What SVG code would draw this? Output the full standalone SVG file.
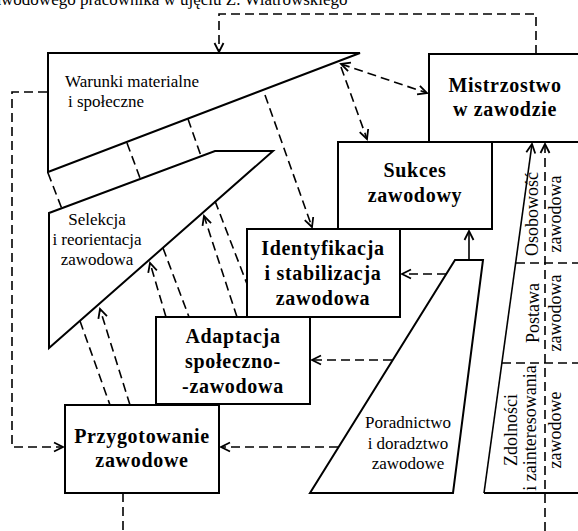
<svg xmlns="http://www.w3.org/2000/svg" width="578" height="531" viewBox="0 0 578 531">
<defs>
<marker id="ah" markerUnits="userSpaceOnUse" markerWidth="12" markerHeight="12" viewBox="0 0 12 12" refX="10" refY="6" orient="auto-start-reverse">
<path d="M1,1.5 L10,6 L1,10.5" fill="none" stroke="#000" stroke-width="1.8"/>
</marker>
<style>
.shape{fill:none;stroke:#000;stroke-width:2}
.dash{fill:none;stroke:#000;stroke-width:1.6;stroke-dasharray:9 5}
.solid{fill:none;stroke:#000;stroke-width:1.6}
.arr{marker-end:url(#ah)}
text{font-family:'Liberation Serif','Times New Roman',serif;fill:#000}
.b{font-weight:bold;font-size:20px;letter-spacing:0.7px;text-anchor:middle}
.r{font-size:17px}
.v{font-size:18px;text-anchor:middle}
</style>
</defs>
<rect width="578" height="531" fill="#fff"/>
<text class="r" x="-14" y="5" font-size="18">zawodowego pracownika w ujęciu Z. Wiatrowskiego</text>

<g id="warunki">
<polygon class="shape" points="48,53 360,53 48,172"/>
<text class="r" x="65" y="87">Warunki materialne</text>
<text class="r" x="68" y="107">i społeczne</text>
</g>
<g id="selekcja">
<polygon class="shape" points="49,213 215,151 273,151 49,348"/>
<text class="r" x="97" y="225" text-anchor="middle">Selekcja</text>
<text class="r" x="97" y="245" text-anchor="middle">i reorientacja</text>
<text class="r" x="97" y="265" text-anchor="middle">zawodowa</text>
</g>
<g id="mistrzostwo">
<rect class="shape" x="429" y="54" width="160" height="88"/>
<text class="b" x="505" y="92">Mistrzostwo</text>
<text class="b" x="505" y="116">w zawodzie</text>
</g>
<g id="sukces">
<rect class="shape" x="338" y="142" width="154" height="87"/>
<text class="b" x="415" y="177">Sukces</text>
<text class="b" x="415" y="202">zawodowy</text>
</g>
<g id="identyfikacja">
<rect class="shape" x="247" y="229" width="153" height="88"/>
<text class="b" x="323" y="255">Identyfikacja</text>
<text class="b" x="323" y="280">i stabilizacja</text>
<text class="b" x="323" y="305">zawodowa</text>
</g>
<g id="adaptacja">
<rect class="shape" x="156" y="317" width="154" height="87"/>
<text class="b" x="233" y="343">Adaptacja</text>
<text class="b" x="233" y="368">społeczno-</text>
<text class="b" x="233" y="393">-zawodowa</text>
</g>
<g id="przygotowanie">
<rect class="shape" x="65" y="405" width="154" height="88"/>
<text class="b" x="142" y="443">Przygotowanie</text>
<text class="b" x="142" y="467">zawodowe</text>
</g>
<g id="poradnictwo">
<polygon class="shape" points="455,260 483,260 453,493 310,493"/>
<text class="r" x="408" y="428" text-anchor="middle">Poradnictwo</text>
<text class="r" x="408" y="449" text-anchor="middle">i doradztwo</text>
<text class="r" x="408" y="469" text-anchor="middle">zawodowe</text>
</g>
<g id="cechy">
<polyline class="shape" points="484,493 580,493"/>
<line class="dash" x1="516" y1="263" x2="578" y2="263"/>
<line class="dash" x1="502" y1="363" x2="578" y2="363"/>
<text class="v" transform="translate(538,214) rotate(-90)">Osobowość</text>
<text class="v" transform="translate(561,214) rotate(-90)">zawodowa</text>
<text class="v" transform="translate(539,313) rotate(-90)">Postawa</text>
<text class="v" transform="translate(561,313) rotate(-90)">zawodowa</text>
<text class="v" transform="translate(517,430) rotate(-90)">Zdolności</text>
<text class="v" transform="translate(536,428) rotate(-90)">i zainteresowania</text>
<text class="v" transform="translate(561,430) rotate(-90)">zawodowe</text>
</g>

<g id="connectors">
<path class="dash arr" d="M536,54 V14 H219 V52"/>
<path class="dash arr" d="M47,92 H12 V447 H63"/>
<path class="dash arr" d="M341,64 L427,93" marker-start="url(#ah)"/>
<path class="dash arr" d="M341,67 L367,139"/>
<path class="dash arr" d="M265,95 L312,227"/>
<path class="dash" d="M48,173 L62,209"/>
<path class="dash" d="M127,143 L140,178"/>
<path class="dash" d="M188,119 L201,156"/>
<path class="dash arr" d="M237,317 L204,216"/>
<path class="dash" d="M215,201 L247,284"/>
<path class="dash arr" d="M166,317 L150,263"/>
<path class="dash" d="M163,248 L189,317"/>
<path class="dash arr" d="M130,405 L100,309"/>
<path class="dash" d="M80,321 L110,405"/>
<path class="solid arr" d="M469,259 V231"/>
<path class="dash arr" d="M446,274 H402"/>
<path class="dash arr" d="M392,360 H312"/>
<path class="dash arr" d="M338,447 H221"/>
<path class="dash" d="M123,493 V531"/>
<path class="dash arr" d="M545,531 V144"/>
<path class="solid arr" d="M484,493 L532,144"/>
</g>
</svg>
